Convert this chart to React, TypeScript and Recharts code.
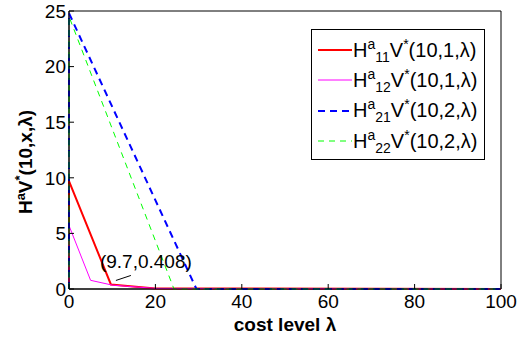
import { LineChart, Line, XAxis, YAxis, ReferenceArea, ReferenceDot } from "recharts"

// lambda values and heights, one pair of arrays per curve
const redX = [0, 0, 9.7, 20, 100]
const redY = [0, 9.7, 0.408, 0.05, 0]
const pinkX = [0, 0, 5, 10, 20, 100]
const pinkY = [0, 5.7, 0.78, 0.35, 0.05, 0]
const blueX = [0, 0, 29.5, 100]
const blueY = [0, 24.8, 0, 0]
const greenX = [0, 0, 24.3, 100]
const greenY = [0, 24.5, 0, 0]

const xTicks = [0, 20, 40, 60, 80, 100]
const yTicks = [0, 5, 10, 15, 20, 25]

const series = [
  { name: "11", arg: "1", xs: redX, ys: redY, color: "#ff0000", width: 2, dash: undefined },
  { name: "12", arg: "1", xs: pinkX, ys: pinkY, color: "#ff00ff", width: 1, dash: undefined },
  { name: "21", arg: "2", xs: blueX, ys: blueY, color: "#0000ff", width: 2, dash: "7 5" },
  { name: "22", arg: "2", xs: greenX, ys: greenY, color: "#00ff00", width: 1, dash: "6 5" },
]

const font = "'Liberation Sans', Arial, sans-serif"

const toPoints = (xs: number[], ys: number[]) => xs.map((x, i) => ({ x, y: ys[i] }))

function YLabel(props: any) {
  const { viewBox } = props
  const cx = viewBox.x + 32
  const cy = viewBox.y + viewBox.height / 2 + 12
  return (
    <text
      x={cx}
      y={cy}
      transform={`rotate(-90 ${cx} ${cy})`}
      textAnchor="middle"
      fontFamily={font}
      fontWeight="bold"
      fontSize={19}
      fill="#000"
    >
      H<tspan fontSize={13} dy={-7}>a</tspan>
      <tspan dy={7}>V</tspan>
      <tspan fontSize={13} dy={-8}>*</tspan>
      <tspan dy={8}>(10,x,λ)</tspan>
    </text>
  )
}

function TipLabel(props: any) {
  const { cx, cy } = props
  return (
    <g>
      <line x1={cx + 5} y1={cy - 4} x2={cx + 20} y2={cy - 9} stroke="#000" strokeWidth={1} />
      <text x={cx - 11} y={cy - 16} fontFamily={font} fontSize={19} fill="#000">
        (9.7,0.408)
      </text>
    </g>
  )
}

export default function App() {
  return (
    <div style={{ position: "absolute", left: 0, top: 0, width: 520, height: 337, background: "#fff" }}>
      <LineChart width={520} height={337} margin={{ top: 11, right: 19, bottom: 0, left: 0 }}>
        <XAxis
          dataKey="x"
          type="number"
          domain={[0, 100]}
          ticks={xTicks}
          allowDuplicatedCategory={false}
          height={48}
          stroke="#000"
          tickSize={-5}
          tickMargin={8}
          tick={{ fill: "#000", fontSize: 19, fontFamily: font, dy: 3 }}
          label={{
            value: "cost level λ",
            position: "insideBottom",
            offset: 6,
            fill: "#000",
            fontSize: 19,
            fontWeight: "bold",
            fontFamily: font,
          }}
        />
        <XAxis xAxisId="top" dataKey="x" type="number" orientation="top" domain={[0, 100]} ticks={xTicks}
          height={0} stroke="#000" tickSize={-5} tickFormatter={() => ""} />
        <YAxis
          type="number"
          domain={[0, 25]}
          ticks={yTicks}
          width={69}
          stroke="#000"
          tickSize={-5}
          tickMargin={8}
          tick={{ fill: "#000", fontSize: 19, fontFamily: font }}
          label={<YLabel />}
        />
        <YAxis yAxisId="right" orientation="right" type="number" domain={[0, 25]} ticks={yTicks}
          width={0} stroke="#000" tickSize={-5} tickFormatter={() => ""} />
        <ReferenceArea x1={0} x2={100} y1={0} y2={25} fill="none" stroke="#000" strokeWidth={1} />
        {series.map((s) => (
          <Line
            key={s.name}
            data={toPoints(s.xs, s.ys)}
            dataKey="y"
            type="linear"
            stroke={s.color}
            strokeWidth={s.width}
            strokeDasharray={s.dash}
            dot={false}
            isAnimationActive={false}
          />
        ))}
        <ReferenceDot x={redX[2]} y={redY[2]} r={0} shape={(p: any) => <TipLabel {...p} />} />
      </LineChart>
      <div
        style={{
          position: "absolute",
          left: 311,
          top: 29,
          width: 174,
          height: 131,
          border: "1px solid #000",
          background: "#fff",
          fontFamily: font,
          fontSize: 20,
          boxSizing: "border-box",
          paddingTop: 5,
        }}
      >
        {series.map((s) => (
          <div key={s.name} style={{ display: "flex", alignItems: "center", height: 30.3, whiteSpace: "nowrap" }}>
            <svg width={36} height={10} style={{ marginLeft: 5 }}>
              <line x1={1} y1={5} x2={35} y2={5} stroke={s.color} strokeWidth={s.width}
                strokeDasharray={s.dash} />
            </svg>
            <span style={{ marginLeft: 0 }}>
              H<sup style={{ fontSize: 14 }}>a</sup>
              <sub style={{ fontSize: 14 }}>{s.name}</sub>V<sup style={{ fontSize: 14 }}>*</sup>(10,{s.arg},λ)
            </span>
          </div>
        ))}
      </div>
    </div>
  )
}
